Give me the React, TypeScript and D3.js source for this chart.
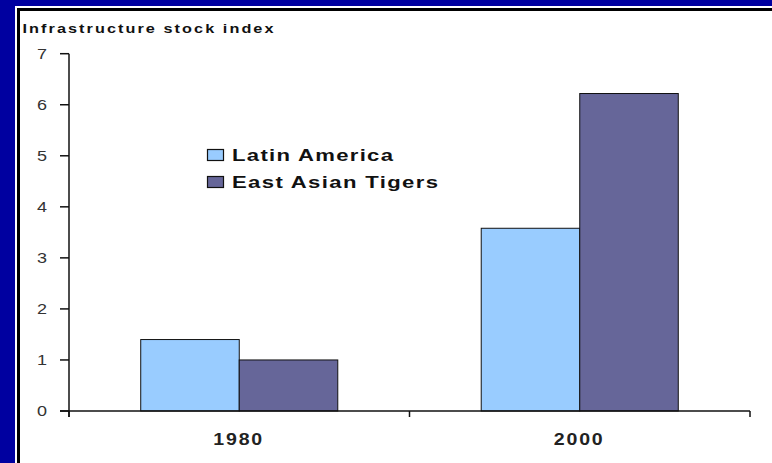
import React from "react";
import * as d3 from "d3";

const categories = ["1980", "2000"];
const seriesNames = ["Latin America", "East Asian Tigers"];
const latinAmerica = [1.4, 3.58];
const eastAsianTigers = [1.0, 6.22];
const yTicks = [0, 1, 2, 3, 4, 5, 6, 7];
const title = "Infrastructure stock index";

const colors = ["#99CCFF", "#666699"];
const FONT = "'Liberation Sans', Arial, sans-serif";

type STProps = {
  x: number; y: number; sx: number; len?: number; size: number; bold?: boolean;
  anchor?: "start" | "middle" | "end"; fill: string; dy?: string; children: React.ReactNode;
};

function SText({ x, y, sx, len, size, bold, anchor = "start", fill, dy, children }: STProps) {
  return (
    <text
      transform={`translate(${x},${y}) scale(${sx},1)`}
      textAnchor={anchor}
      fontFamily={FONT}
      fontWeight={bold ? "bold" : "normal"}
      fontSize={size}
      fill={fill}
      dy={dy}
      textLength={len ? len / sx : undefined}
      lengthAdjust={len ? "spacing" : undefined}
    >
      {children}
    </text>
  );
}

export default function App() {
  const W = 772, H = 463;
  const left = 69, right = 750, base = 411;
  const x = d3.scaleBand<string>().domain(categories).range([left, right]).padding(0);
  const xs = d3.scaleBand<string>().domain(seriesNames).range([0, x.bandwidth()]).paddingInner(0).paddingOuter(0.728);
  const y = d3.scaleLinear().domain([0, 7]).range([base, 53.7]);
  const series = [latinAmerica, eastAsianTigers];
  const textLens = [161, 206];
  const boundaries = [left, ...categories.map((c) => (x(c) as number) + x.bandwidth())];

  return (
    <div style={{ position: "fixed", left: 0, top: 0 }}>
      <svg width={W} height={H} style={{ display: "block" }}>
        <rect x={0} y={0} width={W} height={H} fill="#0000A0" />
        <rect x={15} y={6} width={W} height={H} fill="#FFFFFF" />
        <rect x={18.5} y={9.5} width={W + 10} height={H + 10} fill="none" stroke="#000" strokeWidth={3} />

        <SText x={22.5} y={33} sx={1.3} len={251} size={12.5} bold fill="#111">{title}</SText>

        {/* bars */}
        {categories.map((c, i) => (
          <g key={c}>
            {series.map((s, j) => (
              <rect
                key={j}
                x={(x(c) as number) + (xs(seriesNames[j]) as number)}
                y={y(s[i])}
                width={xs.bandwidth()}
                height={base - y(s[i])}
                fill={colors[j]}
                stroke="#111"
                strokeWidth={1}
              />
            ))}
          </g>
        ))}

        {/* y axis */}
        <line x1={left} x2={left} y1={y(7)} y2={base + 6} stroke="#111" strokeWidth={1.5} />
        {yTicks.map((t) => (
          <g key={t}>
            <line x1={60} x2={left} y1={y(t)} y2={y(t)} stroke="#111" strokeWidth={1.5} />
            <SText x={47} y={y(t)} sx={1.2} size={15} anchor="end" dy="0.36em" fill="#333">{t}</SText>
          </g>
        ))}

        {/* x axis */}
        <line x1={60} x2={right} y1={base} y2={base} stroke="#111" strokeWidth={1.5} />
        {boundaries.map((b, i) => (
          <line key={i} x1={b} x2={b} y1={base} y2={base + 6} stroke="#111" strokeWidth={1.5} />
        ))}
        {categories.map((c) => (
          <SText key={c} x={(x(c) as number) + x.bandwidth() / 2 - 1.5} y={445} sx={1.15} len={49} size={17} bold anchor="middle" fill="#222">
            {c}
          </SText>
        ))}

        {/* legend */}
        {seriesNames.map((n, j) => (
          <g key={n}>
            <rect x={207.5} y={149.5 + j * 27} width={16} height={11} fill={colors[j]} stroke="#111" strokeWidth={1.2} />
            <SText x={232} y={160.5 + j * 27} sx={1.3} len={textLens[j]} size={17} bold fill="#111">{n}</SText>
          </g>
        ))}
      </svg>
    </div>
  );
}
